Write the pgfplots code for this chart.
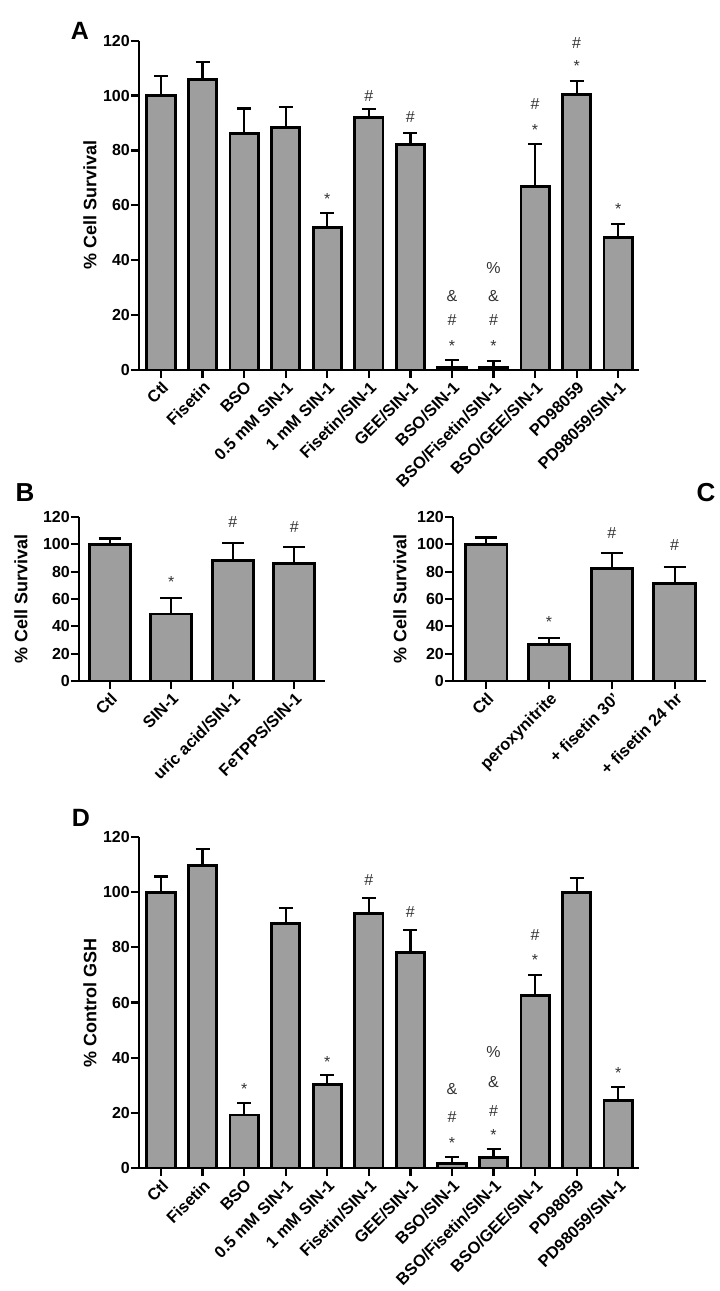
\documentclass[border=0pt]{standalone}
\usepackage{fontspec}
\setmainfont{Liberation Sans}
\usepackage{pgfplots}
\usepackage{pgfplotstable}
\pgfplotsset{compat=1.18}

\definecolor{barfill}{RGB}{158,158,158}

\pgfplotstableread{
x y e
0 100 7
1 105.8 6.4
2 86.3 9
3 88.5 7.3
4 52 5.2
5 92 3
6 82.2 4.2
7 1 2.6
8 1 2.3
9 67 15.3
10 100.3 5
11 48.2 5
}\dataA

\pgfplotstableread{
x y e
0 100 4.3
1 49 12
2 88 13
3 86 12
}\dataB

\pgfplotstableread{
x y e
0 100 5
1 27 4.5
2 82.3 11.2
3 71.5 12
}\dataC

\pgfplotstableread{
x y e
0 100 5.7
1 109.7 6
2 19.2 4.3
3 88.6 5.8
4 30.2 3.4
5 92.2 5.8
6 78.1 8.1
7 1.5 2.4
8 3.8 3
9 62.4 7.5
10 100 5
11 24.5 5
}\dataD

\pgfplotsset{
  gp/.style={
    scale only axis,
    anchor=south west,
    axis lines=left,
    axis line style={-, line width=2.6pt, black},
    ymin=0, ymax=120,
    ytick={0,20,...,120},
    tick align=outside,
    major tick length=8pt,
    tick style={line width=2.2pt, black},
    /pgf/number format/assume math mode=true,
    yticklabel style={font=\fontsize{16}{18}\selectfont\bfseries, inner sep=1pt},
    xticklabel style={font=\fontsize{16.5}{18}\selectfont\bfseries, rotate=45, anchor=north east, inner sep=1.5pt},
    ylabel style={font=\fontsize{18}{20}\selectfont\bfseries, anchor=center},
    clip=false,
  },
  bars/.style={ybar, fill=barfill, draw=black, line width=2.8pt,
    error bars/.cd, y dir=plus, y explicit,
    error bar style={line width=2.2pt, black},
    error mark options={rotate=90, line width=2.2pt, black, mark size=#1}},
  notes/.style={draw=none, mark=none, nodes near coords, point meta=explicit symbolic,
    nodes near coords align={center},
    every node near coord/.append style={font=\fontsize{16}{18}\selectfont, inner sep=0pt, text=black!80}},
}

\begin{document}
\begin{tikzpicture}
\path[use as bounding box] (0pt,0pt) rectangle (720pt,-1291pt);

% Panel letters
\node[font=\fontsize{25}{28}\selectfont\bfseries] at (80pt,-31pt) {A};
\node[font=\fontsize{26}{28}\selectfont\bfseries] at (25pt,-493pt) {B};
\node[font=\fontsize{26}{28}\selectfont\bfseries] at (706pt,-493pt) {C};
\node[font=\fontsize{25}{28}\selectfont\bfseries] at (81pt,-818pt) {D};

% ---------------- A ----------------
\begin{axis}[gp, at={(139pt,-370pt)}, width=500pt, height=329.3pt,
  xmin=-0.53, xmax=11.5,
  xtick={0,...,11},
  xticklabels={Ctl, Fisetin, BSO, 0.5 mM SIN-1, 1 mM SIN-1, Fisetin/SIN-1, GEE/SIN-1, BSO/SIN-1, BSO/Fisetin/SIN-1, BSO/GEE/SIN-1, PD98059, PD98059/SIN-1},
  ylabel={\% Cell Survival},
  ylabel style={at={(axis description cs:-0.098,0.5)}}]
\addplot[bar width=0.68, bars=7pt] table[x=x, y=y, y error=e] {\dataA};
\addplot[notes] coordinates {
 (4,62.5) [*]
 (5,100) [\#]
 (6,92.3) [\#]
 (7,8.8) [*] (7,18.2) [\#] (7,27) [\&]
 (8,8.8) [*] (8,18.2) [\#] (8,27) [\&] (8,37) [\%]
 (9,87.5) [*] (9,96.8) [\#]
 (10,110.8) [*] (10,119) [\#]
 (11,58.8) [*]
};
\end{axis}

% ---------------- B ----------------
\begin{axis}[gp, at={(79pt,-681pt)}, width=246pt, height=164pt,
  xmin=-0.5, xmax=3.5,
  xtick={0,...,3},
  xticklabels={Ctl, SIN-1, uric acid/SIN-1, FeTPPS/SIN-1},
  ylabel={\% Cell Survival},
  ylabel style={at={(axis description cs:-0.236,0.5)}}]
\addplot[bar width=0.67, bars=11pt] table[x=x, y=y, y error=e] {\dataB};
\addplot[notes] coordinates {
 (1,72.8) [*]
 (2,116) [\#]
 (3,112.6) [\#]
};
\end{axis}

% ---------------- C ----------------
\begin{axis}[gp, at={(453pt,-681pt)}, width=253pt, height=164pt,
  xmin=-0.53, xmax=3.5,
  xtick={0,...,3},
  xticklabels={Ctl, peroxynitrite, + fisetin 30', + fisetin 24 hr},
  ylabel={\% Cell Survival},
  ylabel style={at={(axis description cs:-0.21,0.5)}}]
\addplot[bar width=0.66, bars=11pt] table[x=x, y=y, y error=e] {\dataC};
\addplot[notes] coordinates {
 (1,43) [*]
 (2,108.5) [\#]
 (3,99.5) [\#]
};
\end{axis}

% ---------------- D ----------------
\begin{axis}[gp, at={(139pt,-1168pt)}, width=500pt, height=331pt,
  xmin=-0.53, xmax=11.5,
  xtick={0,...,11},
  xticklabels={Ctl, Fisetin, BSO, 0.5 mM SIN-1, 1 mM SIN-1, Fisetin/SIN-1, GEE/SIN-1, BSO/SIN-1, BSO/Fisetin/SIN-1, BSO/GEE/SIN-1, PD98059, PD98059/SIN-1},
  ylabel={\% Control GSH},
  ylabel style={at={(axis description cs:-0.098,0.5)}}]
\addplot[bar width=0.68, bars=7pt] table[x=x, y=y, y error=e] {\dataD};
\addplot[notes] coordinates {
 (2,28.8) [*]
 (4,38.6) [*]
 (5,104.5) [\#]
 (6,92.8) [\#]
 (7,9) [*] (7,18.4) [\#] (7,28.6) [\&]
 (8,12) [*] (8,20.5) [\#] (8,31) [\&] (8,42) [\%]
 (9,75.5) [*] (9,84.6) [\#]
 (11,34.6) [*]
};
\end{axis}
\end{tikzpicture}
\end{document}
